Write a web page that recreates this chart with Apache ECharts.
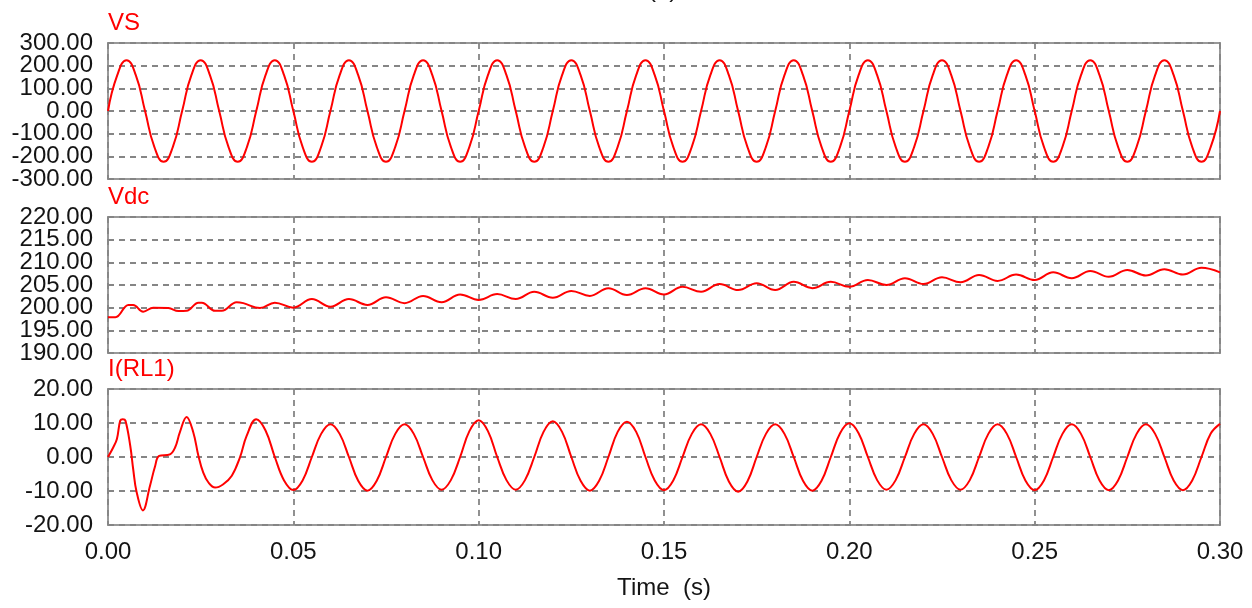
<!DOCTYPE html>
<html>
<head>
<meta charset="utf-8">
<title>VS / Vdc / I(RL1)</title>
<script src="https://cdn.jsdelivr.net/npm/echarts@6.0.0/dist/echarts.min.js"></script>
<style>
  html, body { margin: 0; padding: 0; background: #fff; }
  #chart { width: 1252px; height: 608px; }
</style>
</head>
<body>
<div id="chart"></div>
<script>
// VS trace, one sample every 2.5 ms
const vsStep = 0.0025;
const vsValues = [
  0, 158, 224, 158, 0, -158, -224, -158,
  0, 158, 224, 158, 0, -158, -224, -158,
  0, 158, 224, 158, 0, -158, -224, -158,
  0, 158, 224, 158, 0, -158, -224, -158,
  0, 158, 224, 158, 0, -158, -224, -158,
  0, 158, 224, 158, 0, -158, -224, -158,
  0, 158, 224, 158, 0, -158, -224, -158,
  0, 158, 224, 158, 0, -158, -224, -158,
  0, 158, 224, 158, 0, -158, -224, -158,
  0, 158, 224, 158, 0, -158, -224, -158,
  0, 158, 224, 158, 0, -158, -224, -158,
  0, 158, 224, 158, 0, -158, -224, -158,
  0, 158, 224, 158, 0, -158, -224, -158,
  0, 158, 224, 158, 0, -158, -224, -158,
  0, 158, 224, 158, 0, -158, -224, -158,
  0
];

// Vdc (peaks and dips of the ripple)
const vdcTimes = [
  0, 0.002, 0.0055, 0.0068, 0.0095, 0.0122, 0.0163, 0.019, 0.0212, 0.0244,
  0.0253, 0.0289, 0.0307, 0.0347, 0.0365, 0.041, 0.045, 0.05, 0.055, 0.06,
  0.065, 0.07, 0.075, 0.08, 0.085, 0.09, 0.095, 0.10, 0.105, 0.11,
  0.115, 0.12, 0.125, 0.13, 0.135, 0.14, 0.145, 0.15, 0.155, 0.16,
  0.165, 0.17, 0.175, 0.18, 0.185, 0.19, 0.195, 0.20, 0.205, 0.21,
  0.215, 0.22, 0.225, 0.23, 0.235, 0.24, 0.245, 0.25, 0.255, 0.26,
  0.265, 0.27, 0.275, 0.28, 0.285, 0.29, 0.295, 0.30
];
const vdcValues = [
  197.9, 197.9, 200.6, 200.6, 199.1, 200.0, 199.9, 199.25, 199.3, 201.1,
  201.1, 199.3, 199.3, 201.2, 201.0, 199.9, 201.1, 200.0, 201.9, 200.2,
  201.9, 200.6, 202.3, 201.0, 202.6, 201.2, 202.9, 201.7, 203.0, 201.9,
  203.5, 202.2, 203.7, 202.6, 204.3, 202.8, 204.3, 202.9, 204.6, 203.5,
  205.2, 203.9, 205.4, 203.9, 205.7, 204.3, 205.7, 204.6, 206.1, 205.0,
  206.5, 205.2, 206.7, 205.6, 207.2, 205.9, 207.3, 206.1, 207.8, 206.5,
  208.1, 206.8, 208.3, 207.1, 208.5, 207.3, 208.8, 207.8
];

// I(RL1) start-up transient (irregular samples)
const iStartTimes = [
  0, 0.0014, 0.0024, 0.0033, 0.004, 0.0047, 0.006, 0.0068, 0.0077, 0.0094,
  0.0113, 0.0127, 0.0138, 0.0167, 0.0181, 0.0194, 0.0212, 0.023, 0.0244, 0.0257,
  0.0271, 0.0289, 0.0311, 0.0334, 0.0356, 0.0374
];
const iStartValues = [
  0, 2.8, 5.3, 10.7, 11.1, 10.7, 3.3, -3.6, -10.2, -15.7,
  -8.6, -2.7, 0.3, 0.8, 2.8, 7.3, 11.8, 7.3, 0.3, -4.6,
  -7.5, -9.0, -8.0, -5.5, -0.1, 6.2
];
// I(RL1) after 0.04 s, one sample every 2.5 ms
const iSteadyStart = 0.04;
const iStep = 0.0025;
const iSteadyValues = [
  11.1, 7.8, 0, -6.9, -9.7, -6.9, 0, 6.8,
  9.65, 6.8, 0, -7.0, -9.9, -7.0, 0, 6.8,
  9.6, 6.8, 0, -6.8, -9.6, -6.8, 0, 7.6,
  10.8, 7.6, 0, -6.8, -9.6, -6.8, 0, 7.4,
  10.5, 7.4, 0, -7.0, -9.9, -7.0, 0, 7.4,
  10.4, 7.4, 0, -6.9, -9.75, -6.9, 0, 6.8,
  9.6, 6.8, 0, -7.2, -10.2, -7.2, 0, 6.8,
  9.6, 6.8, 0, -7.0, -9.9, -7.0, 0, 7.0,
  9.9, 7.0, 0, -6.8, -9.6, -6.8, 0, 6.8,
  9.6, 6.8, 0, -6.8, -9.6, -6.8, 0, 6.8,
  9.6, 6.8, 0, -6.9, -9.75, -6.9, 0, 6.8,
  9.6, 6.8, 0, -6.9, -9.75, -6.9, 0, 6.8,
  9.6, 6.8, 0, -6.9, -9.75, -6.9, 0, 6.9,
  9.75
];

const vsData = vsValues.map((v, i) => [+(i * vsStep).toFixed(4), v]);
const vdcData = vdcTimes.map((t, i) => [t, vdcValues[i]]);
const iData = iStartTimes.map((t, i) => [t, iStartValues[i]])
  .concat(iSteadyValues.map((v, i) => [+(iSteadyStart + i * iStep).toFixed(4), v]));

const panels = [
  {name: 'VS', min: -300, max: 300, interval: 100, data: vsData, smooth: 0.5},
  {name: 'Vdc', min: 190, max: 220, interval: 5, data: vdcData, smooth: 0.4},
  {name: 'I(RL1)', min: -20, max: 20, interval: 10, data: iData, smooth: 0.4}
];
const panelTops = [43, 217, 389];

const fontFamily = '"Liberation Sans", Arial, sans-serif';
const dashed = {show: true, lineStyle: {color: '#858585', width: 1.8, type: [6, 5]}};
const tickLabel = {
  margin: 15,
  fontSize: 24,
  color: '#141414',
  fontFamily: fontFamily,
  hideOverlap: false,
  formatter: v => v.toFixed(2)
};

// inner ticks on one y axis, the top/bottom ticks on a second one,
// so ECharts does not drop labels that touch the end labels
const yAxes = [];
panels.forEach((p, i) => {
  yAxes.push({
    type: 'value',
    gridIndex: i,
    min: p.min,
    max: p.max,
    interval: p.interval,
    axisLine: {show: false},
    axisTick: {show: false},
    splitLine: dashed,
    axisLabel: Object.assign({}, tickLabel, {showMinLabel: false, showMaxLabel: false}),
    name: p.name,
    nameLocation: 'end',
    nameGap: 8,
    nameTextStyle: {
      fontSize: 24,
      color: '#ff0000',
      fontFamily: fontFamily,
      align: 'left',
      verticalAlign: 'bottom'
    }
  });
  yAxes.push({
    type: 'value',
    gridIndex: i,
    position: 'left',
    min: p.min,
    max: p.max,
    interval: p.max - p.min,
    axisLine: {show: false},
    axisTick: {show: false},
    splitLine: {show: false},
    axisLabel: Object.assign({}, tickLabel, {showMinLabel: true, showMaxLabel: true})
  });
});

const myChart = echarts.init(document.getElementById('chart'), null, {renderer: 'canvas'});

myChart.setOption({
  animation: false,
  backgroundColor: '#ffffff',
  textStyle: {fontFamily: fontFamily},
  graphic: [{
    type: 'text',
    left: 648,
    top: -22,
    style: {text: '(a)', fontSize: 24, fontFamily: fontFamily, fill: '#111'}
  }],
  grid: panels.map((p, i) => ({
    left: 108,
    right: 32,
    top: panelTops[i],
    height: 136,
    show: true,
    borderColor: '#999999',
    borderWidth: 2,
    backgroundColor: 'transparent',
    outerBoundsMode: 'none'
  })),
  xAxis: panels.map((p, i) => ({
    type: 'value',
    gridIndex: i,
    min: 0,
    max: 0.3,
    interval: 0.05,
    axisLine: {show: false},
    axisTick: {show: false},
    splitLine: dashed,
    axisLabel: Object.assign({}, tickLabel, {show: i === 2}),
    name: i === 2 ? 'Time  (s)' : '',
    nameLocation: 'middle',
    nameGap: 51,
    nameTextStyle: {fontSize: 24, color: '#141414', fontFamily: fontFamily}
  })),
  yAxis: yAxes,
  series: panels.map((p, i) => ({
    name: p.name,
    type: 'line',
    xAxisIndex: i,
    yAxisIndex: i * 2,
    data: p.data,
    smooth: p.smooth,
    showSymbol: false,
    symbol: 'none',
    lineStyle: {color: '#ff0000', width: 2},
    itemStyle: {color: '#ff0000'}
  }))
});
</script>
</body>
</html>
